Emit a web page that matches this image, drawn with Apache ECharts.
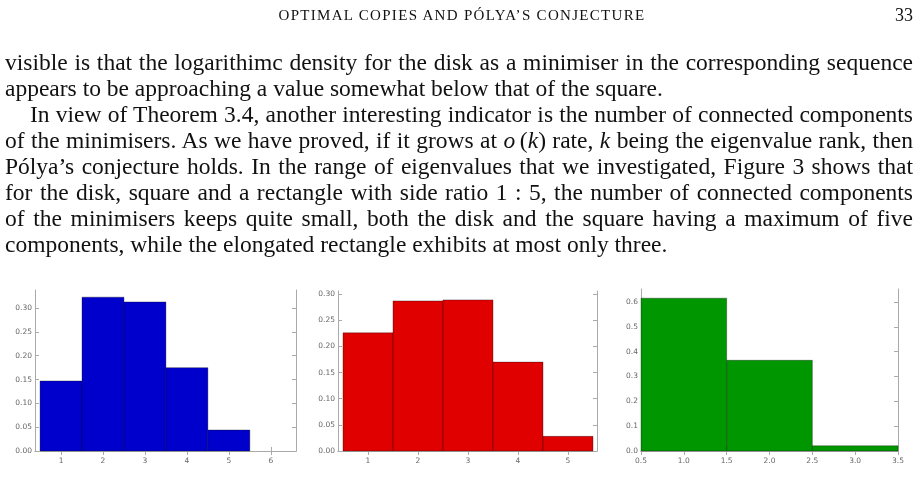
<!DOCTYPE html>
<html>
<head>
<meta charset="utf-8">
<script src="https://cdn.jsdelivr.net/npm/echarts@6/dist/echarts.min.js"></script>
<style>
  body{margin:0;background:#fff;}
  #page{position:relative;width:919px;height:495px;overflow:hidden;font-family:'Liberation Serif','DejaVu Serif',serif;color:#111;}
  #chart{position:absolute;left:0;top:0;width:919px;height:495px;}
  .hdr{position:absolute;top:5px;left:212px;width:500px;text-align:center;font-size:15px;letter-spacing:1.3px;line-height:20px;}
  .pg{position:absolute;top:5px;right:6px;font-size:18px;line-height:20px;}
  .ln{position:absolute;left:5px;width:908px;font-size:23.5px;line-height:26px;white-space:nowrap;}
  .j{text-align:justify;text-align-last:justify;white-space:normal;}
</style>
</head>
<body>
<div id="page">
  <div id="chart"></div>
  <div class="hdr">OPTIMAL COPIES AND PÓLYA’S CONJECTURE</div>
  <div class="pg">33</div>
  <div class="ln j" style="top:49px">visible is that the logarithimc density for the disk as a minimiser in the corresponding sequence</div>
  <div class="ln" style="top:75px">appears to be approaching a value somewhat below that of the square.</div>
  <div class="ln j" style="top:101px;left:30px;width:883px">In view of Theorem 3.4, another interesting indicator is the number of connected components</div>
  <div class="ln j" style="top:127px">of the minimisers. As we have proved, if it grows at <i>o</i>&#8201;(<i>k</i>) rate, <i>k</i> being the eigenvalue rank, then</div>
  <div class="ln j" style="top:153px">Pólya’s conjecture holds. In the range of eigenvalues that we investigated, Figure 3 shows that</div>
  <div class="ln j" style="top:179px">for the disk, square and a rectangle with side ratio 1 : 5, the number of connected components</div>
  <div class="ln j" style="top:205px">of the minimisers keeps quite small, both the disk and the square having a maximum of five</div>
  <div class="ln" style="top:231px">components, while the elongated rectangle exhibits at most only three.</div>
</div>
<script>
// histogram bins: [left edge, right edge, height]
const diskBins = [[0.5,1.5,0.147],[1.5,2.5,0.323],[2.5,3.5,0.313],[3.5,4.5,0.175],[4.5,5.5,0.044]];
const squareBins = [[0.5,1.5,0.226],[1.5,2.5,0.287],[2.5,3.5,0.289],[3.5,4.5,0.170],[4.5,5.5,0.028]];
const rectBins = [[0.5,1.5,0.615],[1.5,2.5,0.365],[2.5,3.5,0.021]];
const xTicks = [[1,2,3,4,5,6],[1,2,3,4,5],[0.5,1.0,1.5,2.0,2.5,3.0,3.5]];
const yTicks = [[0,0.05,0.10,0.15,0.20,0.25,0.30],[0,0.05,0.10,0.15,0.20,0.25,0.30],[0,0.1,0.2,0.3,0.4,0.5,0.6]];
const colors = ['#0000cc','#e00000','#009600'];

const grids = [
  {left:35, top:290, width:261, height:161},
  {left:338, top:291, width:259, height:160},
  {left:641, top:289, width:257, height:162}
];
const xRanges = [[0.38,6.6],[0.4,5.58],[0.5,3.5]];
const yMax = [0.338,0.306,0.652];
const yDigits = [2,2,1];
const xDigits = [0,0,1];

const line = {show:true,lineStyle:{color:'#aaa',width:1}};
const label = {color:'#666',fontSize:7.5,fontFamily:'DejaVu Sans'};

const xAxis = [], yAxis = [], series = [];
[diskBins, squareBins, rectBins].forEach((bins, i) => {
  const [xmin,xmax] = xRanges[i];
  ['bottom','top'].forEach(pos => {
    xAxis.push({type:'value',gridIndex:i,min:xmin,max:xmax,position:pos,
      axisLine:line, splitLine:{show:false},
      axisTick:{show:true,inside:true,length:4,lineStyle:{color:'#aaa'},customValues:xTicks[i]},
      axisLabel:Object.assign({},label,{show:pos==='bottom',margin:6,customValues:xTicks[i],
        formatter:v => v.toFixed(xDigits[i])})});
  });
  ['left','right'].forEach(pos => {
    yAxis.push({type:'value',gridIndex:i,min:0,max:yMax[i],position:pos,
      axisLine:line, splitLine:{show:false},
      axisTick:{show:true,inside:true,length:4,lineStyle:{color:'#aaa'},customValues:yTicks[i]},
      axisLabel:Object.assign({},label,{show:pos==='left',margin:3,customValues:yTicks[i],
        formatter:v => v.toFixed(yDigits[i])})});
  });
  series.push({
    type:'custom', xAxisIndex:2*i, yAxisIndex:2*i, data:bins,
    renderItem:(params, api) => {
      const p0 = api.coord([api.value(0), api.value(2)]);
      const p1 = api.coord([api.value(1), 0]);
      return {type:'rect', shape:{x:p0[0], y:p0[1], width:p1[0]-p0[0], height:p1[1]-p0[1]},
        style:{fill:colors[i], stroke:'rgba(0,0,0,0.45)', lineWidth:0.7}};
    }
  });
});

const chart = echarts.init(document.getElementById('chart'));
chart.setOption({animation:false, grid:grids, xAxis, yAxis, series});
</script>
</body>
</html>
